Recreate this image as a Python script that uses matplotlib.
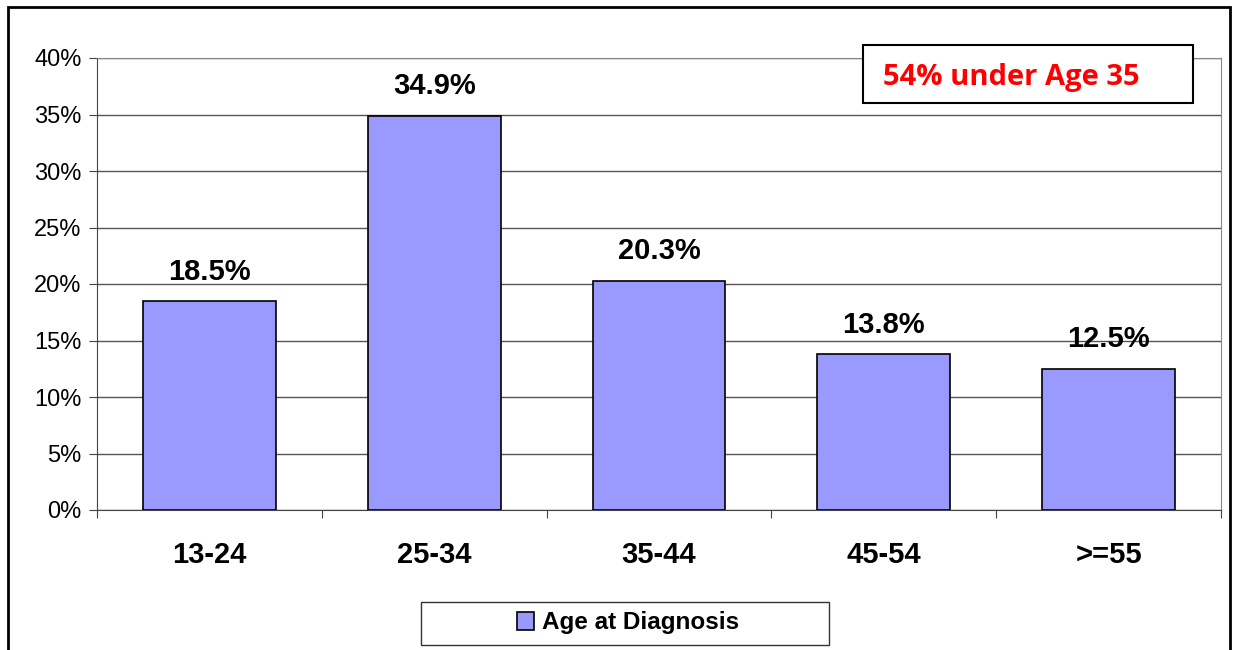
import matplotlib
matplotlib.use("Agg")
import matplotlib.pyplot as plt
from matplotlib.patches import Rectangle
from matplotlib.ticker import FuncFormatter, MultipleLocator

categories = ["13-24", "25-34", "35-44", "45-54", ">=55"]
values = [18.5, 34.9, 20.3, 13.8, 12.5]
series_name = "Age at Diagnosis"
note = "54% under Age 35"

plt.rcParams['font.family'] = ['Liberation Sans', 'DejaVu Sans']

W, H = 1236, 650
fig = plt.figure(figsize=(W/100, H/100), dpi=100)

def fx(x): return x / W
def fy(y): return 1 - y / H

# outer frame
fig.patches.append(Rectangle((fx(8), fy(652)), fx(1230) - fx(8), fy(7) - fy(652),
                             transform=fig.transFigure, fill=False, edgecolor='black', lw=2))

ax = fig.add_axes([fx(97), fy(510), fx(1221) - fx(97), fy(58) - fy(510)])
x = list(range(len(categories)))
bars = ax.bar(x, values, width=0.59, color='#9999ff', edgecolor='black', linewidth=1.2,
              label=series_name, zorder=3)
ax.set_xlim(-0.5, len(categories) - 0.5)
ax.set_ylim(0, 40)
ax.yaxis.set_major_locator(MultipleLocator(5))
ax.yaxis.set_major_formatter(FuncFormatter(lambda v, p: f"{v:.0f}%"))
ax.grid(axis='y', color='#555555', lw=1, zorder=0)
ax.set_axisbelow(True)
for s in ['top', 'right']:
    ax.spines[s].set_color('#888888')
for s in ['left', 'bottom']:
    ax.spines[s].set_color('#444444')
ax.tick_params(axis='y', length=6, direction='out', labelsize=17, pad=5, color='#444444')
ax.set_xticks([i - 0.5 for i in range(len(categories) + 1)], minor=False)
ax.set_xticklabels([])
ax.tick_params(axis='x', which='major', length=6, direction='out', color='#444444')
ax.set_xticks(x, minor=True)
ax.set_xticklabels(categories, minor=True, fontsize=21, fontweight='bold')
ax.tick_params(axis='x', which='minor', length=0, pad=22)

for xi, v in zip(x, values):
    ax.annotate(f"{v}%", (xi, v), xytext=(0, 11), textcoords='offset points',
                ha='center', va='bottom', fontsize=21, fontweight='bold')

# note box
fig.patches.append(Rectangle((fx(863), fy(103)), fx(1193) - fx(863), fy(45) - fy(103),
                             transform=fig.transFigure, facecolor='white', edgecolor='black', lw=1.5, zorder=5))
fig.text(fx(883), fy(77), note, color='#ff0000', fontsize=21, fontweight='bold',
         family=['Open Sans', 'DejaVu Sans'], ha='left', va='center', zorder=6)

# legend box
fig.patches.append(Rectangle((fx(421), fy(645)), fx(829) - fx(421), fy(602) - fy(645),
                             transform=fig.transFigure, facecolor='white', edgecolor='#333333', lw=1, zorder=5))
leg = fig.legend(handles=[bars], labels=[series_name], loc='center',
                 bbox_to_anchor=(fx(628), fy(623)), frameon=False,
                 prop={'weight': 'bold', 'size': 17.5},
                 handlelength=0.7, handleheight=0.7, handletextpad=0.35,
                 borderpad=0.2, borderaxespad=0)
leg.set_zorder(6)

fig.savefig("out.png", dpi=100)
